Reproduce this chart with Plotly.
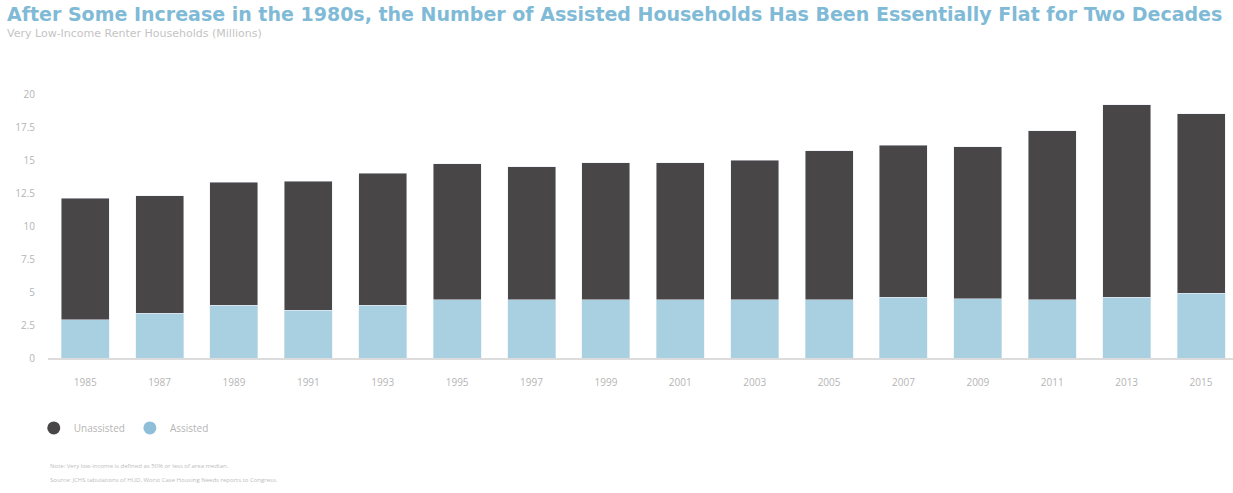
import plotly.graph_objects as go

years = ["1985", "1987", "1989", "1991", "1993", "1995", "1997", "1999",
         "2001", "2003", "2005", "2007", "2009", "2011", "2013", "2015"]
total = [12.1, 12.3, 13.3, 13.4, 14.0, 14.7, 14.5, 14.8,
         14.8, 15.0, 15.7, 16.1, 16.0, 17.2, 19.2, 18.5]
assisted = [2.9, 3.4, 4.0, 3.6, 4.0, 4.4, 4.4, 4.4,
            4.4, 4.4, 4.4, 4.6, 4.5, 4.4, 4.6, 4.9]
unassisted = [round(t - a, 2) for t, a in zip(total, assisted)]

DARK = "#484647"
LIGHT = "#a9d0e1"
GRAY = "#b5b5b5"

fig = go.Figure()
fig.add_trace(go.Bar(x=years, y=assisted, name="Assisted", marker_color=LIGHT,
                     showlegend=False))
fig.add_trace(go.Bar(x=years, y=unassisted, name="Unassisted", marker_color=DARK,
                     showlegend=False))
# legend entries with circular markers
fig.add_trace(go.Scatter(x=[None], y=[None], mode="markers", name="Unassisted",
                         marker=dict(color=DARK, size=13, symbol="circle")))
fig.add_trace(go.Scatter(x=[None], y=[None], mode="markers", name="Assisted",
                         marker=dict(color="#8fbfd8", size=13, symbol="circle")))

fig.update_layout(
    width=1233, height=493,
    barmode="stack", bargap=0.355,
    plot_bgcolor="white", paper_bgcolor="white",
    margin=dict(l=48, r=0, t=94, b=135),
    font=dict(family="Open Sans", color=GRAY, size=10),
    legend=dict(orientation="h", x=-0.012, y=-0.265, xanchor="left", yanchor="middle",
                font=dict(size=10, color=GRAY), itemwidth=30, traceorder="normal"),
    xaxis=dict(type="category", range=[-0.5, 15.43], showgrid=False,
               showline=True, linecolor="#dcdcdc", linewidth=2,
               ticks="", ticklabelstandoff=14, tickfont=dict(size=10, color=GRAY)),
    yaxis=dict(range=[0, 20], dtick=2.5, showgrid=False, zeroline=False,
               ticks="", ticklabelstandoff=12, tickfont=dict(size=10, color=GRAY)),
)

fig.add_annotation(xref="paper", yref="paper", x=-0.036, y=1.0, yshift=80,
                   xanchor="left", yanchor="middle", showarrow=False,
                   text="<b>After Some Increase in the 1980s, the Number of Assisted Households Has Been Essentially Flat for Two Decades</b>",
                   font=dict(family="DejaVu Sans", size=19, color="#7fbad6"))
fig.add_annotation(xref="paper", yref="paper", x=-0.036, y=1.0, yshift=61,
                   xanchor="left", yanchor="middle", showarrow=False,
                   text="Very Low-Income Renter Households (Millions)",
                   font=dict(family="DejaVu Sans", size=11, color="#c4c4c4"))
fig.add_annotation(xref="paper", yref="paper", x=0.0, y=0.0, yshift=-108,
                   xanchor="left", yanchor="middle", showarrow=False,
                   text="Note: Very low-income is defined as 50% or less of area median.",
                   font=dict(family="Open Sans", size=6, color="#bdbdbd"))
fig.add_annotation(xref="paper", yref="paper", x=0.0, y=0.0, yshift=-122,
                   xanchor="left", yanchor="middle", showarrow=False,
                   text="Source: JCHS tabulations of HUD, Worst Case Housing Needs reports to Congress.",
                   font=dict(family="Open Sans", size=6, color="#bdbdbd"))

fig.write_html("out.html")
